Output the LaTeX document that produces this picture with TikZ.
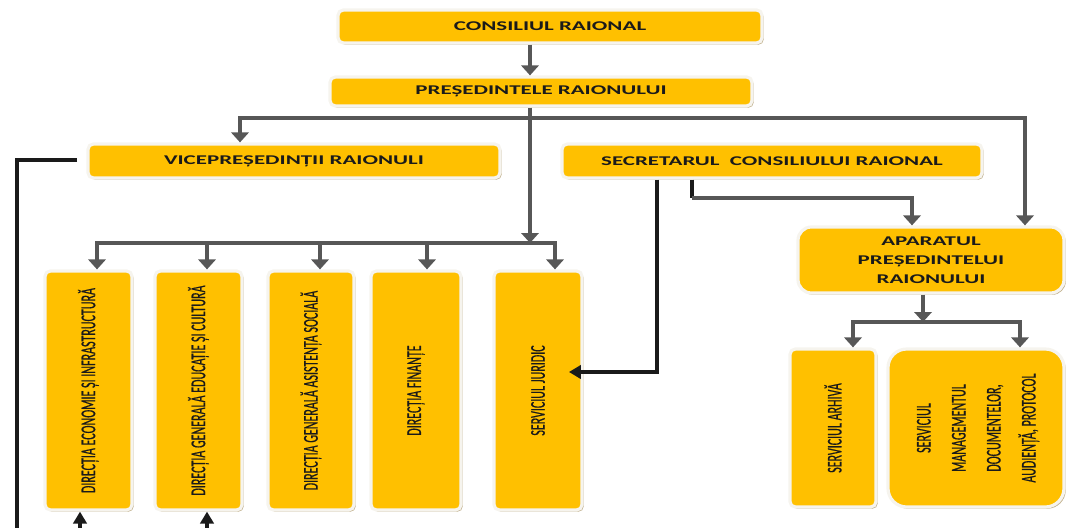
\documentclass[tikz,border=0pt]{standalone}
\usepackage{fontspec}
\setmainfont{Carlito}
\newfontfamily\vfam[FakeBold=0.7]{Carlito}
\usetikzlibrary{arrows.meta,shadows,calc}
\definecolor{gold}{HTML}{FFC000}
\definecolor{frm}{HTML}{F6F4EE}
\definecolor{shd}{HTML}{BFAE8A}
\definecolor{arr}{HTML}{575757}
\definecolor{ink}{HTML}{1A1A1A}
\newcommand{\hx}[1]{\scalebox{1.72}[1]{\bfseries #1}}
\newcommand{\vx}[1]{\rotatebox{90}{\scalebox{1}[1.75]{#1}}}
\tikzset{
  box/.style 2 args={draw=frm, line width=2.4pt, fill=gold, rounded corners=4pt, inner sep=0pt,
     minimum width=#1*0.75pt, minimum height=#2*0.75pt, text=ink,
     font=\fontsize{10}{14.25}\selectfont,
     drop shadow={shadow xshift=1.3pt, shadow yshift=-1.3pt, fill=shd, opacity=1}},
  vfont/.style={font=\vfam\fontsize{9}{15}\selectfont},
  garr/.style={draw=arr, line width=3.4pt, -{Triangle[width=13pt,length=7.5pt]}},
  gline/.style={draw=arr, line width=3.4pt},
  garr2/.style={draw=arr, line width=3.4pt, {Triangle[width=13pt,length=7.5pt]}-{Triangle[width=13pt,length=7.5pt]}},
  barr/.style={draw=ink, line width=2.6pt, -{Triangle[width=10pt,length=9pt]}},
  bline/.style={draw=ink, line width=2.8pt},
}
\begin{document}
\begin{tikzpicture}[x=0.75pt,y=-0.75pt]
\useasboundingbox (0,0) rectangle (1067,528);
% boxes
\node[box={424}{33}] (cons) at (550,26.5) {\hx{CONSILIUL RAIONAL}};
\node[box={422}{29}] (pres) at (541,91.5) {\hx{PREȘEDINTELE RAIONULUI}};
\node[box={412}{34}] (vice) at (294,161) {\hx{VICEPREȘEDINȚII RAIONULI}};
\node[box={420}{34}] (secr) at (772,161) {\hx{SECRETARUL~ CONSILIULUI RAIONAL}};
\node[box={87}{239},vfont] (d1) at (88.5,390.5) {\vx{DIRECȚIA ECONOMIE ȘI INFRASTRUCTURĂ}};
\node[box={87}{239},vfont] (d2) at (198.5,390.5) {\vx{DIRECȚIA GENERALĂ EDUCAȚIE ȘI CULTURĂ}};
\node[box={86}{239},vfont] (d3) at (311,390.5) {\vx{DIRECȚIA GENERALĂ ASISTENȚA SOCIALĂ}};
\node[box={90}{239},vfont] (d4) at (416,390.5) {\vx{DIRECȚIA FINANȚE}};
\node[box={88}{239},vfont] (jur) at (538,390.5) {\vx{SERVICIUL JURIDIC}};
\node[box={266}{66}, rounded corners=10pt, align=center] (apar) at (931,260)
  {\hx{APARATUL}\\\hx{PREȘEDINTELUI}\\\hx{RAIONULUI}};
\node[box={86}{158},vfont] (arh) at (833,428) {\vx{SERVICIUL ARHIVĂ}};
\node[box={176}{158},vfont, rounded corners=14pt] (mgmt) at (976,428)
  {\vx{\begin{tabular}{@{}c@{}}SERVICIUL\\MANAGEMENTUL\\DOCUMENTELOR,\\AUDIENȚĂ, PROTOCOL\end{tabular}}};
% helper coordinates
\coordinate (c530) at (530,0);
\coordinate (h1) at (240,118);
\coordinate (h2) at (1025,118);
\coordinate (busL) at (97,243);
\coordinate (busR) at (555,243);
\coordinate (b2) at (207,243);
\coordinate (b3) at (320,243);
\coordinate (b4) at (427,243);
\coordinate (c923) at (923,0);
\coordinate (aL) at (853,322);
\coordinate (aR) at (1020,322);
\coordinate (sj) at (657,372);
\coordinate (s2) at (692,198);
\coordinate (s3) at (912,198);
\coordinate (v1) at (17,160);
\coordinate (vb) at (17,532);
\coordinate (u1) at (80,532);
\coordinate (u2) at (207,532);
% gray connectors
\draw[garr] (cons.south -| c530) -- (pres.north -| c530);
\draw[garr2, line join=miter] (h1 |- vice.north) -- (h1) -- (h2) -- (h2 |- apar.north);
\draw[garr] (pres.south -| c530) -- (c530 |- busL);
\draw[garr2, line join=miter] (busL |- d1.north) -- (busL) -- (busR) -- (busR |- jur.north);
\draw[garr] (b2) -- (b2 |- d2.north);
\draw[garr] (b3) -- (b3 |- d3.north);
\draw[garr] (b4) -- (b4 |- d4.north);
\draw[garr] (apar.south -| c923) -- (c923 |- aL);
\draw[garr2, line join=miter] (aL |- arh.north) -- (aL) -- (aR) -- (aR |- mgmt.north);
% secretary connectors
\draw[barr, line join=miter, shorten >=-11pt] (secr.south -| sj) -- (sj) -- (jur.east |- sj);
\draw[bline] (secr.south -| s2) -- (s2);
\draw[garr, line join=miter] (s2) -- (s3) -- (s3 |- apar.north);
% vice connector
\draw[bline, line join=miter, shorten <=7pt] (vice.west |- v1) -- (v1) -- (vb);
\draw[barr] (u1) -- (u1 |- d1.south);
\draw[barr] (u2) -- (u2 |- d2.south);
\end{tikzpicture}
\end{document}
